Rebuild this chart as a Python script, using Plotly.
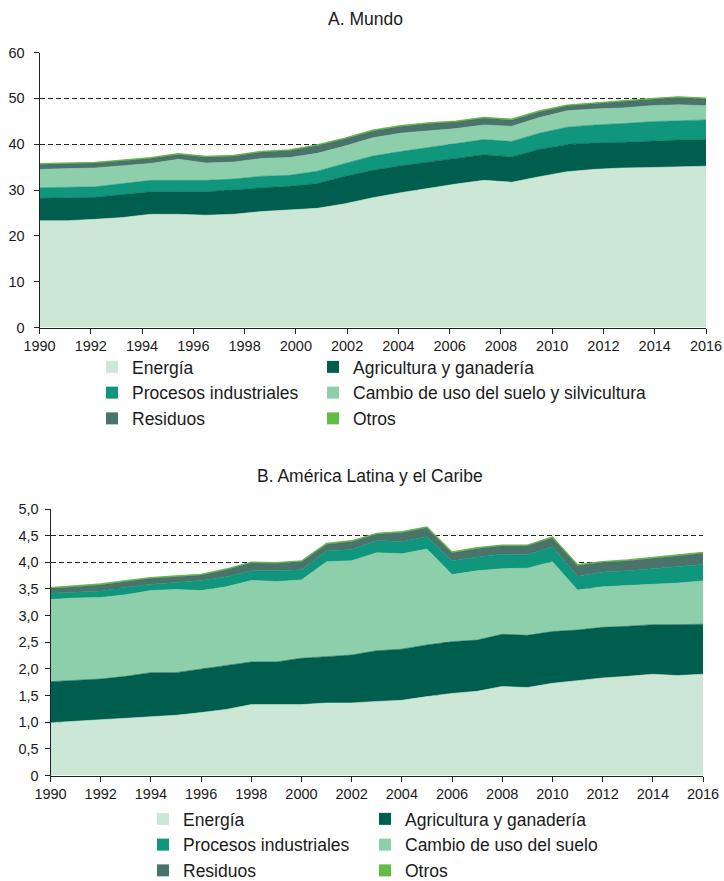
import numpy as np
import plotly.graph_objects as go

# ---------------- A. Mundo (Gt CO2eq) ----------------
mundo_energia = [23.3, 23.3, 23.6, 24.0, 24.7, 24.7, 24.5, 24.7, 25.3, 25.6, 26.0, 27.0, 28.3,
                 29.4, 30.4, 31.3, 32.1, 31.7, 32.9, 34.0, 34.5, 34.8, 34.9, 35.0, 35.2]
mundo_agricultura = [4.9, 5.0, 4.8, 5.0, 4.9, 4.9, 5.1, 5.3, 5.2, 5.2, 5.4, 6.0, 6.0,
                     5.9, 5.7, 5.6, 5.6, 5.5, 6.0, 5.9, 5.8, 5.6, 5.8, 5.9, 5.8]
mundo_procesos = [2.3, 2.3, 2.3, 2.4, 2.5, 2.5, 2.5, 2.4, 2.5, 2.4, 2.7, 2.8, 3.1,
                  3.1, 3.2, 3.2, 3.3, 3.4, 3.5, 3.8, 3.9, 4.1, 4.2, 4.2, 4.3]
mundo_cambio = [4.0, 4.0, 4.1, 3.9, 3.7, 4.6, 3.8, 3.7, 3.9, 3.9, 3.9, 3.8, 4.0,
                4.0, 3.6, 3.3, 3.2, 3.3, 3.4, 3.6, 3.5, 3.4, 3.5, 3.5, 3.1]
mundo_residuos = [1.1, 1.1, 1.1, 1.1, 1.1, 1.1, 1.3, 1.3, 1.4, 1.5, 1.7, 1.6, 1.5,
                  1.5, 1.6, 1.5, 1.5, 1.4, 1.3, 1.1, 1.2, 1.4, 1.4, 1.6, 1.5]
mundo_otros = [0.15, 0.15, 0.15, 0.15, 0.15, 0.15, 0.15, 0.15, 0.15, 0.15, 0.15, 0.15, 0.15,
               0.15, 0.15, 0.15, 0.15, 0.15, 0.15, 0.15, 0.15, 0.15, 0.15, 0.15, 0.15]
# the world series is drawn evenly across the 1990-2016 axis
mundo_x = np.linspace(1990, 2016, len(mundo_energia))

# ---------------- B. América Latina y el Caribe ----------------
alc_years = list(range(1990, 2017))
alc_energia = [0.99, 1.02, 1.04, 1.07, 1.11, 1.13, 1.18, 1.24, 1.33, 1.33, 1.33, 1.36, 1.36, 1.39,
               1.41, 1.48, 1.54, 1.58, 1.67, 1.65, 1.73, 1.78, 1.83, 1.86, 1.90, 1.875, 1.90]
alc_agricultura = [0.77, 0.76, 0.77, 0.79, 0.82, 0.80, 0.82, 0.82, 0.80, 0.80, 0.87, 0.87, 0.90, 0.95,
                   0.96, 0.97, 0.97, 0.96, 0.98, 0.98, 0.97, 0.95, 0.95, 0.94, 0.93, 0.955, 0.94]
alc_cambio = [1.54, 1.55, 1.53, 1.53, 1.54, 1.56, 1.47, 1.48, 1.53, 1.51, 1.47, 1.78, 1.77, 1.84,
              1.79, 1.80, 1.26, 1.30, 1.23, 1.26, 1.31, 0.75, 0.76, 0.76, 0.76, 0.78, 0.81]
alc_procesos = [0.12, 0.11, 0.12, 0.14, 0.12, 0.13, 0.19, 0.19, 0.18, 0.20, 0.19, 0.20, 0.21, 0.23,
                0.23, 0.23, 0.26, 0.26, 0.27, 0.25, 0.28, 0.26, 0.28, 0.28, 0.29, 0.31, 0.31]
alc_residuos = [0.09, 0.10, 0.12, 0.11, 0.11, 0.11, 0.10, 0.13, 0.15, 0.14, 0.15, 0.13, 0.15, 0.12,
                0.17, 0.17, 0.15, 0.16, 0.16, 0.17, 0.17, 0.20, 0.18, 0.19, 0.20, 0.20, 0.21]
alc_otros = [0.015] * 27

x_ticks = list(range(1990, 2017, 2))
mundo_yticks = [0, 10, 20, 30, 40, 50, 60]
alc_yticks = [0, 0.5, 1.0, 1.5, 2.0, 2.5, 3.0, 3.5, 4.0, 4.5, 5.0]
alc_yticklabels = ["0", "0,5", "1,0", "1,5", "2,0", "2,5", "3,0", "3,5", "4,0", "4,5", "5,0"]

C_ENERGIA = "#cce7d6"
C_AGRI = "#005e4f"
C_PROC = "#10967c"
C_CAMBIO = "#8ecfab"
C_RESID = "#4a736b"
C_OTROS = "#62bb46"

FONT = "Liberation Sans, Arial, sans-serif"
TXT = "#1a1a1a"

fig = go.Figure()


def add_area(x, y, color, xa, ya, group, lw=0.6):
    fig.add_trace(go.Scatter(
        x=x, y=y, mode="lines", stackgroup=group, xaxis=xa, yaxis=ya,
        line=dict(color=color, width=lw), fillcolor=color, showlegend=False,
        hoverinfo="x+y"))


# top chart stack: Energía, Agricultura, Procesos, Cambio, Residuos, Otros
add_area(mundo_x, mundo_energia, C_ENERGIA, "x", "y", "m")
add_area(mundo_x, mundo_agricultura, C_AGRI, "x", "y", "m")
add_area(mundo_x, mundo_procesos, C_PROC, "x", "y", "m")
add_area(mundo_x, mundo_cambio, C_CAMBIO, "x", "y", "m")
add_area(mundo_x, mundo_residuos, C_RESID, "x", "y", "m")
add_area(mundo_x, mundo_otros, C_OTROS, "x", "y", "m", lw=1.2)

# bottom chart stack: Energía, Agricultura, Cambio, Procesos, Residuos, Otros
add_area(alc_years, alc_energia, C_ENERGIA, "x2", "y2", "a")
add_area(alc_years, alc_agricultura, C_AGRI, "x2", "y2", "a")
add_area(alc_years, alc_cambio, C_CAMBIO, "x2", "y2", "a")
add_area(alc_years, alc_procesos, C_PROC, "x2", "y2", "a")
add_area(alc_years, alc_residuos, C_RESID, "x2", "y2", "a")
add_area(alc_years, alc_otros, C_OTROS, "x2", "y2", "a", lw=1.2)


def add_legend_item(name, color, legend):
    fig.add_trace(go.Scatter(
        x=[None], y=[None], mode="markers", name=name, legend=legend,
        marker=dict(symbol="square", size=12, color=color), xaxis="x", yaxis="y"))


add_legend_item("Energía", C_ENERGIA, "legend")
add_legend_item("Procesos industriales", C_PROC, "legend")
add_legend_item("Residuos", C_RESID, "legend")
add_legend_item("Agricultura y ganadería", C_AGRI, "legend2")
add_legend_item("Cambio de uso del suelo y silvicultura", C_CAMBIO, "legend2")
add_legend_item("Otros", C_OTROS, "legend2")

add_legend_item("Energía", C_ENERGIA, "legend3")
add_legend_item("Procesos industriales", C_PROC, "legend3")
add_legend_item("Residuos", C_RESID, "legend3")
add_legend_item("Agricultura y ganadería", C_AGRI, "legend4")
add_legend_item("Cambio de uso del suelo", C_CAMBIO, "legend4")
add_legend_item("Otros", C_OTROS, "legend4")

W, H = 724, 881


def px_x(p):
    return p / W


def px_y(p):
    return (H - p) / H


axis_common = dict(
    showline=True, linecolor="#222", linewidth=1, ticks="outside", ticklen=5,
    tickcolor="#222", tickwidth=1, tickfont=dict(family=FONT, size=14.5, color=TXT),
    zeroline=False, fixedrange=True, automargin=False,
)

grid = dict(showgrid=True, gridcolor="#222", gridwidth=1, griddash="5px,3px")

legend_common = dict(
    orientation="v", xanchor="left", yanchor="top", bgcolor="rgba(0,0,0,0)",
    font=dict(family=FONT, size=17.5, color=TXT), itemwidth=30, tracegroupgap=0,
    traceorder="normal", itemclick=False, itemdoubleclick=False,
)

fig.update_layout(
    width=W, height=H,
    margin=dict(l=0, r=0, t=0, b=0, autoexpand=False),
    paper_bgcolor="white", plot_bgcolor="white",
    font=dict(family=FONT, color=TXT),
    xaxis=dict(domain=[px_x(39.5), px_x(706)], range=[1990, 2016], tickvals=x_ticks,
               anchor="y", showgrid=False, **axis_common),
    yaxis=dict(domain=[px_y(327.5), px_y(52.5)], range=[0, 60], tickvals=mundo_yticks,
               anchor="x", ticklabelstandoff=6, **grid, **axis_common),
    xaxis2=dict(domain=[px_x(50.5), px_x(703)], range=[1990, 2016], tickvals=x_ticks,
                anchor="y2", showgrid=False, **axis_common),
    yaxis2=dict(domain=[px_y(775.5), px_y(509)], range=[0, 5], tickvals=alc_yticks,
                ticktext=alc_yticklabels, anchor="x2", ticklabelstandoff=3, **grid, **axis_common),
    legend=dict(x=px_x(92), y=px_y(349), **legend_common),
    legend2=dict(x=px_x(313), y=px_y(349), **legend_common),
    legend3=dict(x=px_x(143), y=px_y(801), **legend_common),
    legend4=dict(x=px_x(365), y=px_y(801), **legend_common),
    annotations=[
        dict(text="A. Mundo", x=px_x(365), y=px_y(19), xref="paper", yref="paper",
             showarrow=False, xanchor="center", yanchor="middle",
             font=dict(family=FONT, size=17.5, color=TXT)),
        dict(text="B. América Latina y el Caribe", x=px_x(370), y=px_y(476), xref="paper",
             yref="paper", showarrow=False, xanchor="center", yanchor="middle",
             font=dict(family=FONT, size=17.5, color=TXT)),
    ],
    hovermode=False,
)

# let the figure fill the whole window (no default page margin)
fig.write_html(
    "out.html",
    config={"displayModeBar": False, "staticPlot": True},
    post_script="document.body.style.margin='0';document.body.style.overflow='hidden';",
)
